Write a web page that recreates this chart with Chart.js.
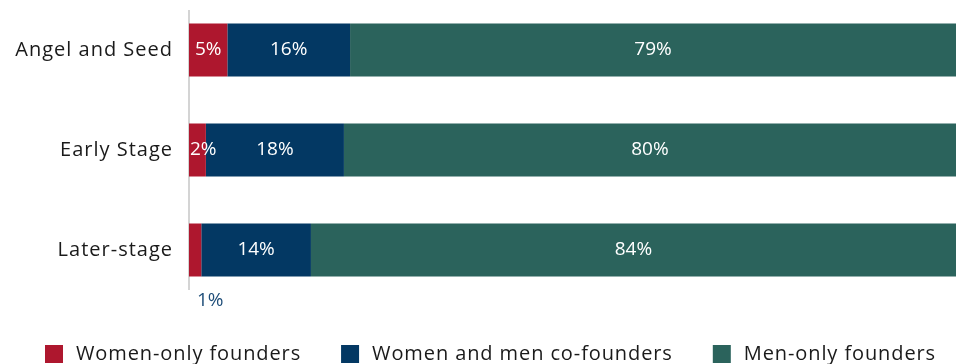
<!DOCTYPE html>
<html>
<head>
<meta charset="utf-8">
<script src="https://cdn.jsdelivr.net/npm/chart.js@4"></script>
<style>
  html, body { margin: 0; padding: 0; background: #fff; }
  #wrap { width: 956px; height: 364px; position: relative; }
</style>
</head>
<body>
<div id="wrap"><canvas id="c" width="956" height="364"></canvas></div>
<script>
const categories = ["Angel and Seed", "Early Stage", "Later-stage"];
const seriesNames = ["Women-only founders", "Women and men co-founders", "Men-only founders"];
const womenOnly = [5, 2.2, 1.6];
const mixed = [16, 18, 14.3];
const menOnly = [79, 79.8, 84.1];
const womenOnlyLabels = ["5%", "2%", "1%"];
const mixedLabels = ["16%", "18%", "14%"];
const menOnlyLabels = ["79%", "80%", "84%"];

const colors = ["#ae172e", "#033863", "#2b635c"];
const FONT = "'Open Sans', sans-serif";

const spacingPlugin = {
  id: 'tickSpacing',
  beforeDraw(chart) { chart.ctx.letterSpacing = '1px'; }
};

const labelPlugin = {
  id: 'segLabels',
  afterDatasetsDraw(chart) {
    const ctx = chart.ctx;
    ctx.save();
    ctx.letterSpacing = '0px';
    ctx.font = "19px " + FONT;
    ctx.textBaseline = 'middle';
    chart.data.datasets.forEach((ds, di) => {
      const meta = chart.getDatasetMeta(di);
      meta.data.forEach((bar, i) => {
        const txt = ds.segLabels[i];
        const left = Math.min(bar.base, bar.x);
        const right = Math.max(bar.base, bar.x);
        const w = right - left;
        const tw = ctx.measureText(txt).width;
        if (w < 15) {
          ctx.fillStyle = '#1f4e79';
          ctx.textAlign = 'left';
          ctx.fillText(txt, left + 8, bar.y + bar.height / 2 + 24);
        } else if (tw > w) {
          ctx.fillStyle = '#ffffff';
          ctx.textAlign = 'left';
          ctx.fillText(txt, left + 1, bar.y);
        } else {
          ctx.fillStyle = '#ffffff';
          ctx.textAlign = 'center';
          ctx.fillText(txt, (left + right) / 2, bar.y);
        }
      });
    });
    ctx.restore();
  }
};

const axisLinePlugin = {
  id: 'axisLine',
  beforeDatasetsDraw(chart) {
    const ctx = chart.ctx, a = chart.chartArea;
    ctx.save();
    ctx.strokeStyle = '#c6c6c6';
    ctx.lineWidth = 1.5;
    ctx.beginPath();
    ctx.moveTo(a.left, a.top + 10);
    ctx.lineTo(a.left, a.bottom - 10);
    ctx.stroke();
    ctx.restore();
  }
};

const legendPlugin = {
  id: 'customLegend',
  afterDraw(chart) {
    const ctx = chart.ctx;
    const yc = chart.chartArea.bottom + 54;
    ctx.save();
    ctx.letterSpacing = '0.9px';
    ctx.font = "20px " + FONT;
    ctx.textBaseline = 'middle';
    ctx.textAlign = 'left';
    let x = 45;
    chart.data.datasets.forEach((ds) => {
      ctx.fillStyle = ds.backgroundColor;
      ctx.fillRect(x, yc - 9, 18, 18);
      ctx.fillStyle = '#1a1a1a';
      ctx.fillText(ds.label, x + 31, yc);
      x += 31 + ctx.measureText(ds.label).width + 40;
    });
    ctx.restore();
    ctx.letterSpacing = '0px';
  }
};

const seriesValues = [womenOnly, mixed, menOnly];
const seriesLabels = [womenOnlyLabels, mixedLabels, menOnlyLabels];

new Chart(document.getElementById('c'), {
  type: 'bar',
  data: {
    labels: categories,
    datasets: seriesNames.map((n, k) => ({
      label: n,
      data: seriesValues[k],
      segLabels: seriesLabels[k],
      backgroundColor: colors[k],
      borderWidth: 0,
      barPercentage: 0.53,
      categoryPercentage: 1
    }))
  },
  options: {
    indexAxis: 'y',
    responsive: false,
    animation: false,
    layout: { padding: { left: 0, right: 0, top: 0, bottom: 64 } },
    plugins: { legend: { display: false }, tooltip: { enabled: false } },
    scales: {
      x: { stacked: true, min: 0, max: 100, display: false },
      y: {
        stacked: true,
        grid: { display: false, drawTicks: false },
        border: { display: false },
        ticks: { color: '#1a1a1a', font: { family: FONT, size: 20 }, padding: 16 },
        afterFit(scale) { scale.width = 189; scale.paddingTop = 0; scale.paddingBottom = 0; }
      }
    }
  },
  plugins: [spacingPlugin, axisLinePlugin, labelPlugin, legendPlugin]
});
</script>
</body>
</html>
